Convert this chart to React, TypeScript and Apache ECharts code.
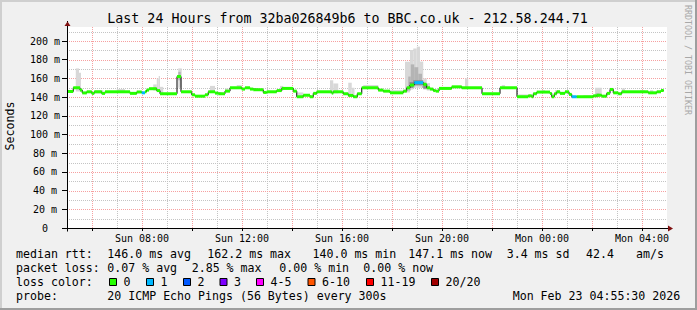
import React, { useEffect, useRef } from 'react';
import * as echarts from 'echarts';

// ---------- texts ----------
const TITLE = 'Last 24 Hours from 32ba026849b6 to BBC.co.uk - 212.58.244.71';
const Y_TITLE = 'Seconds';
const WATERMARK = 'RRDTOOL / TOBI OETIKER';

// ---------- axes (hours since Sun 00:00, values in ms) ----------
const X_MIN = 5;
const X_MAX = 29;
const xLabelHours = [8, 12, 16, 20, 24, 28];
const xTickHours = [6, 8, 10, 12, 14, 16, 18, 20, 22, 24, 26, 28];
const xMajorHours = [6, 8, 10, 12, 14, 16, 18, 20, 22, 24, 26, 28];
const xMinorHours = [7, 9, 11, 13, 15, 17, 19, 21, 23, 25, 27];
const Y_MIN = 0;
const Y_MAX = 215;
const yLabelValues = [0, 20, 40, 60, 80, 100, 120, 140, 160, 180, 200];
const yMajorValues = [20, 40, 60, 80, 100, 120, 140, 160, 180, 200];
const yMinorValues = [10, 30, 50, 70, 90, 110, 130, 150, 170, 190, 210];

// ---------- median rtt (step change points) ----------
const medianHour = [
  5.0, 5.25, 5.52, 5.61, 5.79, 5.99, 6.09, 6.39, 6.52, 7.52, 7.79, 7.99, 8.12, 8.18, 8.28, 8.59, 8.72,
  9.4, 9.56, 9.99, 10.12, 10.52, 10.65, 10.92, 11.05, 11.32, 11.52, 11.99, 12.12, 12.32, 12.45, 12.85,
  12.99, 13.39, 13.59, 14.05, 14.19, 14.45, 14.72, 14.85, 14.99, 15.59, 15.65, 16.05, 16.25, 16.45,
  16.61, 16.79, 17.45, 17.65, 17.92, 18.45, 18.59, 18.72, 18.89, 19.25, 19.39, 19.52, 19.65, 19.75,
  19.88, 20.39, 20.79, 21.6, 22.32, 23.0, 23.45, 23.59, 23.65, 23.79, 24.32, 24.39, 24.49, 24.59,
  24.72, 24.92, 25.08, 25.19, 25.39, 26.05, 26.19, 26.39, 26.59, 26.72, 26.85, 27.05, 27.19, 28.25,
  28.59, 28.76,
];
const medianMs = [
  146, 150, 147.5, 144.5, 145.7, 144, 145.7, 144, 145.7, 144, 145.5, 144.6, 145.7, 147.5, 149, 147, 143.6,
  162, 145.7, 142.5, 141, 142.5, 145.7, 144.3, 143.6, 146.4, 150, 148.6, 150, 148.6, 147.9, 145,
  145.7, 147, 149.3, 146.4, 140.4, 142, 140.4, 144, 145.7, 144.3, 145.7, 143.6, 141.8, 140.4,
  143.6, 150, 147.5, 146.4, 144.6, 146.4, 150, 152.9, 155.5, 153.6, 150, 148.6, 147, 146.4,
  149.3, 151, 150, 143.6, 150, 140.4, 141.4, 140.4, 143.6, 145.4, 144, 140.4, 143.6, 145.7,
  144, 145.7, 142.9, 140.4, 140.4, 141.4, 142, 141, 144, 148.2, 144.6, 143.6, 145.7, 144.6,
  145.7, 147.1,
];
const medianLoss = [
  0, 0, 0, 0, 0, 0, 0, 0, 0, 0, 0, 1, 0, 0, 0, 0, 0,
  0, 0, 0, 0, 0, 0, 0, 0, 0, 0, 0, 0, 0, 0, 0,
  0, 0, 0, 0, 0, 0, 0, 0, 0, 0, 0, 0, 0, 0,
  0, 0, 0, 0, 0, 0, 0, 0, 1, 0, 0, 0, 0, 0,
  0, 0, 0, 0, 0, 0, 0, 0, 0, 0, 0, 0, 0, 0,
  0, 0, 0, 1, 0, 0, 0, 0, 0, 0, 0, 0, 0, 0,
  0, 0,
];
const MEDIAN_END = 28.87;

// ---------- smoke (ping spread) ----------
const smokeStart = [5.35, 5.48, 6.12, 6.99, 8.45, 8.59, 8.67, 8.72, 9.45, 9.45, 10.72, 11.32, 11.79, 13.52, 14.19,
  15.52, 15.65, 16.25, 16.39, 16.85, 17.92, 18.52, 18.72, 18.85, 18.99, 19.12, 19.25, 19.39, 18.65, 18.75,
  18.89, 19.05, 19.2, 18.7, 18.85, 19.25, 20.92, 22.39, 23.05, 23.99, 24.52, 25.65, 26.12, 26.15, 27.19, 27.92, 28.32];
const smokeEnd = [5.48, 5.56, 6.45, 7.32, 8.59, 8.67, 8.72, 8.85, 9.59, 9.55, 10.92, 11.45, 11.99, 13.65, 14.45,
  15.65, 15.85, 16.39, 16.5, 17.45, 18.45, 18.72, 18.85, 18.99, 19.12, 19.25, 19.39, 19.52, 18.75, 18.89,
  19.05, 19.2, 19.35, 18.85, 19.25, 19.4, 21.05, 22.52, 23.45, 24.12, 24.72, 25.99, 26.39, 26.3, 27.32, 28.12, 28.45];
const smokeLow = [146, 146, 144, 145, 147, 146, 146, 143, 150, 158, 145, 146, 149, 147, 140,
  144, 144, 141, 141, 149, 144, 145, 148, 150, 150, 150, 148, 147, 147, 150,
  152, 152, 150, 150, 153, 149, 149, 149, 140, 145, 144, 140, 141, 140, 145, 145, 144];
const smokeHigh = [170.7, 166, 147.5, 148.6, 153.6, 160, 162.5, 151, 170.7, 167, 152, 149.3, 152.9, 152, 145,
  158, 154.6, 155.4, 150, 152.9, 147.5, 177.9, 190.4, 192, 194, 178, 160, 155, 162, 175,
  172, 165, 156, 156, 158, 154, 160, 152.9, 142.9, 147.5, 147.5, 142, 150, 144, 149.3, 147.5, 147.5];
const smokeShade = [0, 0, 0, 0, 0, 0, 0, 0, 0, 1, 0, 0, 0, 0, 0,
  0, 0, 0, 0, 0, 0, 0, 0, 0, 0, 0, 0, 0, 1, 1,
  1, 1, 1, 2, 2, 2, 0, 0, 0, 0, 0, 0, 0, 1, 0, 0, 0];

// ---------- legend ----------
const rttLegend = ['median rtt:', '146.0 ms avg', '162.2 ms max', '140.0 ms min', '147.1 ms now', '3.4 ms sd', '42.4', 'am/s'];
const lossLegend = ['packet loss:', '0.07 % avg', '2.85 % max', '0.00 % min', '0.00 % now'];
const lossColorTitle = 'loss color:';
const lossLabels = ['0', '1', '2', '3', '4-5', '6-10', '11-19', '20/20'];
const probeLegend = ['probe:', '20 ICMP Echo Pings (56 Bytes) every 300s', 'Mon Feb 23 04:55:30 2026'];

// ---------- styles / layout ----------
const FONT = "'DejaVu Sans Mono', monospace";
const LOSS_COLORS = ['#26ff00', '#00b8ff', '#0059ff', '#7e00ff', '#ff00ff', '#ff5500', '#ff0000', '#a10000'];
const SMOKE_SHADES = ['#d8d8d8', '#b4b4b4', '#888888'];
const MINOR_GRID = '#c4c4c4';
const MAJOR_GRID = '#f6a0a0';
const rttLegendX = [16, 107.3, 207.3, 312.5, 408.3, 506.7, 586, 636];
const lossLegendX = [16, 107.3, 191.7, 279.3, 363.3];
const lossBoxX = [109, 146, 183, 219.5, 256, 307.5, 366, 431];
const probeLegendX = [16, 107.3, 512.7];
const ROW_Y = [254, 268, 282, 296];
const GRID_LEFT = 67;
const GRID_TOP = 27;
const GRID_W = 600;
const GRID_H = 201;
const W = 697;
const H = 310;

function fmtHour(h: number): string {
  if (xLabelHours.indexOf(h) < 0) return '';
  const d = h < 24 ? 'Sun' : 'Mon';
  return `${d} ${String(h % 24).padStart(2, '0')}:00`;
}

// a custom series drawing dotted grid lines; items are [x, y, kind] with kind 0 = vertical, 1 = horizontal
function gridSeries(name: string, items: number[][], color: string, z: number) {
  return {
    type: 'custom',
    name,
    z,
    silent: true,
    data: items,
    encode: { x: 0, y: 1 },
    renderItem: (params: any, api: any) => {
      const kind = api.value(2);
      let x1: number, y1: number, x2: number, y2: number;
      if (kind === 0) {
        const a = api.coord([api.value(0), Y_MIN]);
        const b = api.coord([api.value(0), Y_MAX]);
        x1 = Math.round(a[0]) + 0.5;
        x2 = x1;
        y1 = a[1];
        y2 = b[1];
      } else {
        const a = api.coord([X_MIN, api.value(1)]);
        const b = api.coord([X_MAX, api.value(1)]);
        y1 = Math.round(a[1]) + 0.5;
        y2 = y1;
        x1 = a[0];
        x2 = b[0];
      }
      return {
        type: 'line',
        shape: { x1, y1, x2, y2 },
        style: { stroke: color, fill: null, lineWidth: 1, lineDash: [1, 1], opacity: 1 },
      };
    },
  };
}

function buildOption(): any {
  const minorItems: number[][] = [
    ...xMinorHours.map((h) => [h, Y_MIN, 0]),
    ...yMinorValues.map((v) => [X_MIN, v, 1]),
  ];
  const majorItems: number[][] = [
    ...xMajorHours.map((h) => [h, Y_MIN, 0]),
    ...yMajorValues.map((v) => [X_MIN, v, 1]),
  ];

  const medianPts = medianHour.map((h, i) => [h, medianMs[i]]);
  medianPts.push([MEDIAN_END, medianMs[medianMs.length - 1]]);

  const medianSegs = medianHour.map((h, i) => [
    h,
    i + 1 < medianHour.length ? medianHour[i + 1] : MEDIAN_END,
    medianMs[i],
    medianLoss[i],
  ]);

  const smokeItems = smokeStart.map((s, i) => [s, smokeEnd[i], smokeLow[i], smokeHigh[i], smokeShade[i]]);

  const txt = (text: string, x: number, y: number, extra: any = {}) => ({
    type: 'text',
    x,
    y,
    silent: true,
    z: 100,
    style: {
      text,
      fill: '#000',
      font: `11.6px ${FONT}`,
      align: 'left',
      verticalAlign: 'middle',
      ...extra,
    },
  });

  const graphics: any[] = [
    { type: 'rect', shape: { x: 0, y: 0, width: W, height: 2 }, style: { fill: '#cfcfcf' }, silent: true, z: 100 },
    { type: 'rect', shape: { x: 0, y: 0, width: 2, height: H }, style: { fill: '#cfcfcf' }, silent: true, z: 100 },
    { type: 'rect', shape: { x: 0, y: H - 2, width: W, height: 2 }, style: { fill: '#9e9e9e' }, silent: true, z: 100 },
    { type: 'rect', shape: { x: W - 2, y: 0, width: 2, height: H }, style: { fill: '#9e9e9e' }, silent: true, z: 100 },
    txt(TITLE, 347.5, 18.8, { font: `13.3px ${FONT}`, align: 'center' }),
    {
      type: 'text', x: 10, y: 126, rotation: Math.PI / 2, silent: true, z: 100,
      style: { text: Y_TITLE, fill: '#000', font: `11.6px ${FONT}`, align: 'center', verticalAlign: 'middle' },
    },
    {
      type: 'text', x: 687.5, y: 60, rotation: -Math.PI / 2, silent: true, z: 100,
      style: { text: WATERMARK, fill: '#a8a8a8', font: `8.3px ${FONT}`, align: 'center', verticalAlign: 'middle' },
    },
    // axis lines with overhangs
    { type: 'line', shape: { x1: 67.5, y1: 21, x2: 67.5, y2: 231.5 }, style: { stroke: '#000', lineWidth: 1 }, silent: true, z: 50 },
    { type: 'line', shape: { x1: 62, y1: 228.5, x2: 670, y2: 228.5 }, style: { stroke: '#000', lineWidth: 1 }, silent: true, z: 50 },
    { type: 'polygon', shape: { points: [[64.5, 26], [67.5, 21.5], [70.5, 26]] }, style: { fill: '#7f1010' }, silent: true, z: 60 },
    { type: 'polygon', shape: { points: [[668, 225.5], [673, 228.5], [668, 231.5]] }, style: { fill: '#7f1010' }, silent: true, z: 60 },
  ];

  rttLegend.forEach((t, i) => graphics.push(txt(t, rttLegendX[i], ROW_Y[0])));
  lossLegend.forEach((t, i) => graphics.push(txt(t, lossLegendX[i], ROW_Y[1])));
  graphics.push(txt(lossColorTitle, 16, ROW_Y[2]));
  lossLabels.forEach((t, i) => {
    graphics.push({
      type: 'rect',
      shape: { x: lossBoxX[i] + 0.5, y: ROW_Y[2] - 3.5, width: 7, height: 7 },
      style: { fill: LOSS_COLORS[i], stroke: '#000', lineWidth: 1 },
      silent: true,
      z: 100,
    });
    graphics.push(txt(t, lossBoxX[i] + 14.5, ROW_Y[2]));
  });
  probeLegend.forEach((t, i) => graphics.push(txt(t, probeLegendX[i], ROW_Y[3])));

  return {
    animation: false,
    backgroundColor: '#f0f0f0',
    grid: {
      left: GRID_LEFT,
      top: GRID_TOP,
      width: GRID_W,
      height: GRID_H,
      show: true,
      backgroundColor: '#ffffff',
      borderWidth: 0,
    },
    xAxis: {
      type: 'value',
      min: X_MIN,
      max: X_MAX,
      interval: 1,
      axisLine: { show: false },
      axisTick: { show: true, customValues: xTickHours, length: 3, lineStyle: { color: '#000' } },
      axisLabel: {
        show: true,
        customValues: xLabelHours,
        formatter: fmtHour,
        fontFamily: FONT,
        fontSize: 10,
        color: '#000',
        margin: 5,
      },
      splitLine: { show: false },
    },
    yAxis: {
      type: 'value',
      min: Y_MIN,
      max: Y_MAX,
      interval: 10,
      axisLine: { show: false },
      axisTick: { show: true, customValues: yLabelValues, length: 5, lineStyle: { color: '#000' } },
      axisLabel: {
        show: true,
        customValues: yLabelValues,
        formatter: (v: number) => (yLabelValues.indexOf(v) < 0 ? '' : v === 0 ? '0' : `${v} m`),
        align: 'center',
        margin: 22,
        fontFamily: FONT,
        fontSize: 10,
        color: '#000',
      },
      splitLine: { show: false },
    },
    series: [
      gridSeries('minor grid', minorItems, MINOR_GRID, 1),
      gridSeries('major grid', majorItems, MAJOR_GRID, 1),
      {
        type: 'custom',
        name: 'smoke',
        z: 2,
        silent: true,
        data: smokeItems,
        encode: { x: [0, 1], y: [2, 3] },
        renderItem: (params: any, api: any) => {
          const a = api.coord([api.value(0), api.value(3)]);
          const b = api.coord([api.value(1), api.value(2)]);
          return {
            type: 'rect',
            shape: { x: a[0], y: a[1], width: b[0] - a[0], height: b[1] - a[1] },
            style: { fill: SMOKE_SHADES[api.value(4)] },
          };
        },
      },
      {
        type: 'line',
        name: 'median',
        z: 3,
        step: 'end',
        silent: true,
        symbol: 'none',
        data: medianPts,
        lineStyle: { color: '#000', width: 1 },
      },
      {
        type: 'custom',
        name: 'loss',
        z: 4,
        silent: true,
        data: medianSegs,
        encode: { x: [0, 1], y: 2 },
        renderItem: (params: any, api: any) => {
          const a = api.coord([api.value(0), api.value(2)]);
          const b = api.coord([api.value(1), api.value(2)]);
          return {
            type: 'rect',
            shape: { x: a[0], y: a[1] - 1.5, width: b[0] - a[0], height: 3 },
            style: { fill: LOSS_COLORS[api.value(3)] },
          };
        },
      },
    ],
    graphic: graphics,
  };
}

export default function App() {
  const ref = useRef<HTMLDivElement>(null);
  useEffect(() => {
    if (!ref.current) return;
    const chart = echarts.init(ref.current, null, { renderer: 'svg' });
    chart.setOption(buildOption());
    return () => chart.dispose();
  }, []);
  return <div ref={ref} style={{ position: 'fixed', left: 0, top: 0, width: W, height: H }} />;
}
